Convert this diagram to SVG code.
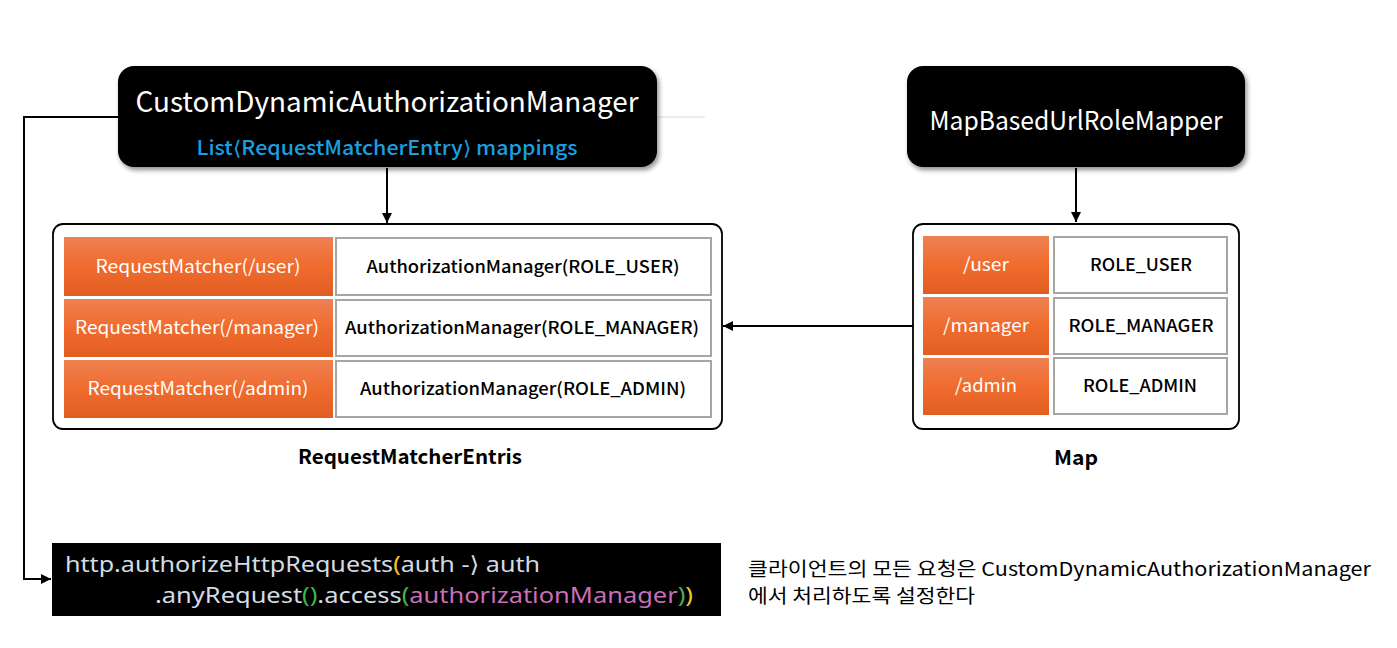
<svg xmlns="http://www.w3.org/2000/svg" width="1397" height="648" viewBox="0 0 1397 648">
<defs>
<linearGradient id="og" x1="0" y1="0" x2="0" y2="1">
<stop offset="0" stop-color="#ee8152"/>
<stop offset="0.5" stop-color="#f06b2e"/>
<stop offset="1" stop-color="#e15e22"/>
</linearGradient>
<filter id="sh" x="-10%" y="-10%" width="120%" height="130%">
<feGaussianBlur in="SourceAlpha" stdDeviation="2.5"/>
<feOffset dx="2" dy="3" result="b"/>
<feComponentTransfer><feFuncA type="linear" slope="0.45"/></feComponentTransfer>
<feMerge><feMergeNode/><feMergeNode in="SourceGraphic"/></feMerge>
</filter>
<marker id="ah" viewBox="0 0 10 10" refX="10" refY="5" markerWidth="10" markerHeight="10" markerUnits="userSpaceOnUse" orient="auto">
<path d="M0,0 L10,5 L0,10 z" fill="#000"/>
</marker>
</defs>
<style>
text{font-family:"Noto Sans CJK KR","Noto Sans",sans-serif}
.hdr{fill:#000}
.cont{fill:#fff;stroke:#000;stroke-width:1.8}
.oc{fill:url(#og)}
.wc{fill:#fff;stroke:#a6a6a6;stroke-width:2}
.ot{fill:#fff;font-size:18px;text-anchor:middle}
.wt{fill:#000;font-size:17px;font-weight:500;text-anchor:middle}
.lbl{fill:#000;font-size:20px;font-weight:700;text-anchor:middle}
.conn{fill:none;stroke:#000;stroke-width:2}
.code{font-family:"Noto Sans","DejaVu Sans",sans-serif;font-size:22px;fill:#d3dbe3}
.note{font-size:19px;fill:#000}
</style>
<rect width="1397" height="648" fill="#fff"/>
<line x1="655" y1="117" x2="705" y2="117" stroke="#d9d9d9" stroke-width="1"/>

<g id="custom-manager">
<rect x="118" y="66" width="539" height="101" rx="16" class="hdr" filter="url(#sh)"/>
<text x="387" y="112" fill="#fff" font-size="28" text-anchor="middle" textLength="503" lengthAdjust="spacingAndGlyphs">CustomDynamicAuthorizationManager</text>
<text x="387" y="155" fill="#1a9fe0" font-size="20" font-weight="500" text-anchor="middle" textLength="381" lengthAdjust="spacingAndGlyphs">List⟨RequestMatcherEntry⟩ mappings</text>
</g>

<g id="map-mapper">
<rect x="907" y="66" width="338" height="101" rx="16" class="hdr" filter="url(#sh)"/>
<text x="1076" y="130" fill="#fff" font-size="26" text-anchor="middle" textLength="293" lengthAdjust="spacingAndGlyphs">MapBasedUrlRoleMapper</text>
</g>

<g id="request-matcher-entries">
<rect x="53" y="224" width="669" height="205" rx="10" class="cont"/>
<rect x="64" y="237" width="269" height="59" class="oc"/>
<rect x="64" y="299" width="269" height="58" class="oc"/>
<rect x="64" y="360" width="269" height="58" class="oc"/>
<rect x="336" y="238" width="375" height="57" class="wc"/>
<rect x="336" y="300" width="375" height="56" class="wc"/>
<rect x="336" y="361" width="375" height="56" class="wc"/>
<text x="198" y="273" class="ot" textLength="205" lengthAdjust="spacingAndGlyphs">RequestMatcher(/user)</text>
<text x="197" y="334" class="ot" textLength="244" lengthAdjust="spacingAndGlyphs">RequestMatcher(/manager)</text>
<text x="198" y="395" class="ot" textLength="221" lengthAdjust="spacingAndGlyphs">RequestMatcher(/admin)</text>
<text x="523" y="273" class="wt" textLength="313" lengthAdjust="spacingAndGlyphs">AuthorizationManager(ROLE_USER)</text>
<text x="522" y="334" class="wt" textLength="354" lengthAdjust="spacingAndGlyphs">AuthorizationManager(ROLE_MANAGER)</text>
<text x="523" y="395" class="wt" textLength="326" lengthAdjust="spacingAndGlyphs">AuthorizationManager(ROLE_ADMIN)</text>
<text x="410" y="464" class="lbl" textLength="224" lengthAdjust="spacingAndGlyphs">RequestMatcherEntris</text>
</g>

<g id="map">
<rect x="913" y="224" width="326" height="205" rx="10" class="cont"/>
<rect x="923" y="236" width="126" height="58" class="oc"/>
<rect x="923" y="297" width="126" height="58" class="oc"/>
<rect x="923" y="358" width="126" height="57" class="oc"/>
<rect x="1054" y="237" width="173" height="56" class="wc"/>
<rect x="1054" y="298" width="173" height="56" class="wc"/>
<rect x="1054" y="358" width="173" height="56" class="wc"/>
<text x="986" y="271" class="ot" textLength="46" lengthAdjust="spacingAndGlyphs">/user</text>
<text x="986" y="332" class="ot" textLength="86" lengthAdjust="spacingAndGlyphs">/manager</text>
<text x="986" y="392" class="ot" textLength="62" lengthAdjust="spacingAndGlyphs">/admin</text>
<text x="1141" y="271" class="wt" textLength="102" lengthAdjust="spacingAndGlyphs">ROLE_USER</text>
<text x="1141" y="332" class="wt" textLength="145" lengthAdjust="spacingAndGlyphs">ROLE_MANAGER</text>
<text x="1140" y="392" class="wt" textLength="114" lengthAdjust="spacingAndGlyphs">ROLE_ADMIN</text>
<text x="1076" y="465" class="lbl" textLength="44" lengthAdjust="spacingAndGlyphs">Map</text>
</g>

<g id="code-block">
<rect x="52" y="543" width="669" height="73" fill="#000"/>
<text x="65" y="572" class="code" textLength="475" lengthAdjust="spacingAndGlyphs">http.authorizeHttpRequests<tspan fill="#f2c230">(</tspan>auth -⟩ auth</text>
<text x="155" y="603" class="code" textLength="538" lengthAdjust="spacingAndGlyphs">.anyRequest<tspan fill="#3fb44a">()</tspan>.access<tspan fill="#3fb44a">(</tspan><tspan fill="#c66fb8">authorizationManager</tspan><tspan fill="#3fb44a">)</tspan><tspan fill="#f2c230">)</tspan></text>
</g>

<g id="note">
<text x="748" y="576" class="note" textLength="623" lengthAdjust="spacingAndGlyphs">클라이언트의 모든 요청은 CustomDynamicAuthorizationManager</text>
<text x="748" y="603" class="note" textLength="227" lengthAdjust="spacingAndGlyphs">에서 처리하도록 설정한다</text>
</g>

<g id="connectors">
<line x1="387" y1="168" x2="387" y2="223" class="conn" marker-end="url(#ah)"/>
<line x1="1076" y1="168" x2="1076" y2="222" class="conn" marker-end="url(#ah)"/>
<line x1="913" y1="326" x2="723" y2="326" class="conn" marker-end="url(#ah)"/>
<polyline points="118,117 24,117 24,579 51,579" class="conn" marker-end="url(#ah)"/>
</g>
</svg>
